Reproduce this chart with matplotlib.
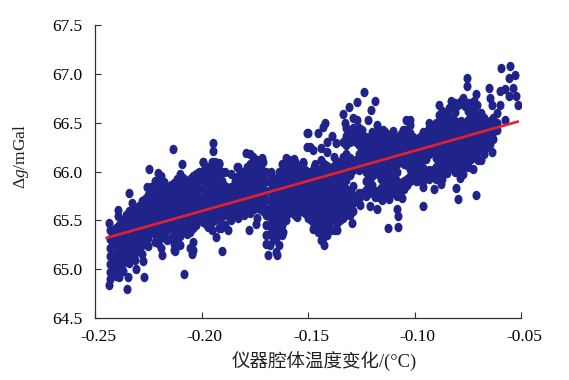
"""Scatter of gravity residual against instrument cavity temperature change."""
import matplotlib
matplotlib.use("Agg")
import matplotlib.pyplot as plt
from matplotlib.markers import MarkerStyle
from matplotlib.path import Path
from matplotlib.transforms import Affine2D, ScaledTranslation

COL_X = [-0.243, -0.240, -0.237, -0.234, -0.231, -0.228, -0.225, -0.222,
         -0.219, -0.216, -0.213, -0.210, -0.207, -0.204, -0.201, -0.198,
         -0.195, -0.192, -0.189, -0.186, -0.183, -0.180, -0.177, -0.174,
         -0.171, -0.168, -0.165, -0.162, -0.159, -0.156, -0.153, -0.150,
         -0.147, -0.144, -0.141, -0.138, -0.135, -0.132, -0.129, -0.126,
         -0.123, -0.120, -0.117, -0.114, -0.111, -0.108, -0.105, -0.102,
         -0.099, -0.096, -0.093, -0.090, -0.087, -0.084, -0.081, -0.078,
         -0.075, -0.072, -0.069, -0.066, -0.063]
COL_Y = [
    [65.40, 65.31, 65.22, 65.13, 65.05, 64.97, 64.90],
    [65.42, 65.34, 65.26, 65.17, 65.08, 65.00, 64.93],
    [65.50, 65.41, 65.32, 65.24, 65.15, 65.06, 64.98],
    [65.60, 65.50, 65.40, 65.31, 65.22, 65.13, 65.06],
    [65.62, 65.52, 65.44, 65.35, 65.26, 65.17, 65.09],
    [65.70, 65.61, 65.52, 65.43, 65.34, 65.25, 65.16],
    [65.76, 65.68, 65.59, 65.50, 65.41, 65.32, 65.24],
    [65.90, 65.80, 65.70, 65.61, 65.52, 65.44, 65.36, 65.28],
    [65.95, 65.86, 65.77, 65.68, 65.59, 65.50, 65.42, 65.32, 65.22],
    [65.84, 65.75, 65.66, 65.57, 65.48, 65.40, 65.30],
    [65.88, 65.79, 65.70, 65.61, 65.52, 65.44, 65.35, 65.26, 65.20],
    [65.97, 65.88, 65.79, 65.70, 65.61, 65.52, 65.43, 65.34, 65.25],
    [65.90, 65.81, 65.72, 65.63, 65.54, 65.45, 65.36],
    [65.95, 65.86, 65.77, 65.68, 65.59, 65.50, 65.42, 65.28, 65.20],
    [66.00, 65.91, 65.82, 65.73, 65.64, 65.57, 65.50],
    [66.03, 65.94, 65.85, 65.76, 65.67, 65.58, 65.46],
    [66.10, 66.00, 65.91, 65.82, 65.73, 65.64, 65.55, 65.48, 65.40],
    [66.08, 65.98, 65.89, 65.80, 65.71, 65.62, 65.53, 65.42],
    [66.00, 65.85, 65.76, 65.67, 65.58, 65.45],
    [65.97, 65.84, 65.75, 65.66, 65.58, 65.50],
    [66.05, 65.95, 65.86, 65.77, 65.68, 65.60, 65.52],
    [66.00, 65.91, 65.82, 65.73, 65.64, 65.55],
    [66.18, 66.08, 65.99, 65.90, 65.81, 65.72, 65.64, 65.58],
    [66.12, 66.02, 65.93, 65.84, 65.75, 65.66, 65.52],
    [66.10, 66.01, 65.92, 65.83, 65.74, 65.67, 65.60],
    [65.98, 65.89, 65.80, 65.71, 65.62, 65.53, 65.44, 65.36, 65.25],
    [65.92, 65.84, 65.75, 65.66, 65.57, 65.48, 65.40, 65.32, 65.18],
    [66.08, 65.99, 65.90, 65.81, 65.72, 65.63, 65.54, 65.45, 65.35],
    [66.12, 66.03, 65.94, 65.85, 65.76, 65.67, 65.58],
    [66.10, 66.01, 65.92, 65.83, 65.74, 65.65, 65.55],
    [66.08, 65.99, 65.90, 65.81, 65.72, 65.64, 65.60],
    [66.00, 65.91, 65.82, 65.73, 65.64, 65.52],
    [66.05, 65.96, 65.87, 65.78, 65.69, 65.60, 65.52, 65.45],
    [66.12, 66.03, 65.94, 65.85, 65.76, 65.67, 65.58, 65.49, 65.40, 65.30],
    [66.20, 66.06, 65.97, 65.88, 65.79, 65.70, 65.61, 65.52, 65.43, 65.35],
    [66.15, 66.06, 65.97, 65.88, 65.79, 65.70, 65.61, 65.52, 65.40],
    [66.10, 66.01, 65.92, 65.83, 65.74, 65.65, 65.56, 65.50],
    [66.45, 66.36, 66.27, 66.18, 66.09, 66.00, 65.91, 65.82, 65.73, 65.64, 65.55],
    [66.55, 66.45, 66.36, 66.10, 66.02, 65.85, 65.76, 65.68, 65.60],
    [66.45, 66.36, 66.27, 66.18, 66.09, 66.02, 65.78, 65.72],
    [66.35, 66.26, 66.17, 66.08, 65.99, 65.90, 65.81, 65.75],
    [66.40, 66.31, 66.22, 66.13, 66.04, 65.95, 65.86, 65.80],
    [66.42, 66.33, 66.24, 66.15, 66.06, 65.97, 65.80, 65.74],
    [66.40, 66.31, 66.22, 66.13, 66.04, 65.95, 65.86, 65.76],
    [66.35, 66.26, 66.17, 66.08, 65.99, 65.90, 65.84, 65.78],
    [66.35, 66.26, 66.17, 66.08, 65.99, 65.90, 65.82, 65.75],
    [66.42, 66.33, 66.24, 66.15, 66.08, 65.90, 65.82],
    [66.48, 66.39, 66.30, 66.21, 66.12, 66.03, 65.95, 65.90],
    [66.30, 66.21, 66.12, 66.03, 65.96, 65.90],
    [66.40, 66.31, 66.22, 66.13, 66.04, 65.96, 65.90],
    [66.45, 66.36, 66.27, 66.18, 66.02, 65.96, 65.92],
    [66.50, 66.41, 66.32, 66.23, 66.14, 66.05, 65.98, 65.92],
    [66.62, 66.53, 66.44, 66.35, 66.26, 66.17, 66.08, 66.00, 65.92],
    [66.65, 66.56, 66.47, 66.38, 66.29, 66.20, 66.11, 66.04],
    [66.70, 66.61, 66.52, 66.43, 66.34, 66.25, 66.16, 66.08, 66.00],
    [66.72, 66.52, 66.43, 66.34, 66.25, 66.16, 66.08, 66.00],
    [66.70, 66.62, 66.53, 66.44, 66.35, 66.26, 66.17, 66.10, 66.05],
    [66.72, 66.63, 66.54, 66.45, 66.36, 66.27, 66.18, 66.15],
    [66.60, 66.51, 66.42, 66.33, 66.24, 66.12],
    [66.50, 66.41, 66.32, 66.25],
    [66.55, 66.48, 66.40],
]

# second pass over the cloud, between the columns above
FILL_X = [-0.2415, -0.2385, -0.2355, -0.2325, -0.2295, -0.2265, -0.2235,
          -0.2205, -0.2175, -0.2145, -0.2115, -0.2085, -0.2055, -0.2025,
          -0.1995, -0.1965, -0.1935, -0.1905, -0.1875, -0.1845, -0.1815,
          -0.1785, -0.1755, -0.1725, -0.1695, -0.1665, -0.1635, -0.1605,
          -0.1575, -0.1545, -0.1515, -0.1485, -0.1455, -0.1425, -0.1395,
          -0.1365, -0.1335, -0.1305, -0.1275, -0.1245, -0.1215, -0.1185,
          -0.1155, -0.1125, -0.1095, -0.1065, -0.1035, -0.1005, -0.0975,
          -0.0945, -0.0915, -0.0885, -0.0855, -0.0825, -0.0795, -0.0765,
          -0.0735, -0.0705, -0.0675, -0.0645, -0.0615]
FILL_Y = [
    [65.35, 65.26, 65.12, 65.03],
    [65.45, 65.36, 65.28, 65.19, 65.10, 65.02],
    [65.55, 65.45, 65.36, 65.27, 65.18, 65.10],
    [65.57, 65.47, 65.38, 65.30, 65.20, 65.12],
    [65.65, 65.56, 65.47, 65.38, 65.29, 65.20],
    [65.72, 65.63, 65.55, 65.46, 65.37, 65.28],
    [65.84, 65.74, 65.65, 65.56, 65.47, 65.38],
    [65.91, 65.82, 65.73, 65.64, 65.55, 65.46, 65.37, 65.27],
    [65.89, 65.80, 65.71, 65.62, 65.53, 65.45, 65.35],
    [65.86, 65.77, 65.68, 65.59, 65.50, 65.42, 65.32],
    [65.92, 65.83, 65.74, 65.65, 65.56, 65.47, 65.38, 65.29],
    [65.93, 65.84, 65.75, 65.66, 65.57, 65.48, 65.40],
    [65.92, 65.83, 65.74, 65.65, 65.56, 65.47, 65.38],
    [65.97, 65.88, 65.79, 65.70, 65.61, 65.52, 65.45],
    [66.01, 65.92, 65.83, 65.74, 65.65, 65.56, 65.48],
    [66.05, 65.96, 65.87, 65.78, 65.69, 65.60, 65.52, 65.44],
    [66.04, 65.95, 65.86, 65.77, 65.68, 65.59, 65.50],
    [66.00, 65.90, 65.81, 65.72, 65.63, 65.54, 65.46],
    [65.80, 65.71, 65.62, 65.54],
    [65.90, 65.81, 65.72, 65.63, 65.55],
    [66.00, 65.90, 65.81, 65.72, 65.64],
    [66.05, 65.95, 65.86, 65.77, 65.68, 65.61],
    [66.06, 65.97, 65.88, 65.79, 65.70, 65.62],
    [66.06, 65.97, 65.88, 65.79, 65.71, 65.62],
    [66.00, 65.90, 65.80, 65.71, 65.62, 65.55, 65.45, 65.35],
    [65.93, 65.84, 65.75, 65.66, 65.57, 65.48, 65.38, 65.30],
    [66.00, 65.92, 65.83, 65.74, 65.65, 65.56, 65.48, 65.40],
    [66.05, 65.96, 65.87, 65.78, 65.69, 65.60, 65.50],
    [66.06, 65.97, 65.88, 65.79, 65.70, 65.62],
    [66.04, 65.95, 65.86, 65.77, 65.68, 65.60],
    [66.02, 65.93, 65.84, 65.75, 65.66, 65.57],
    [66.00, 65.92, 65.83, 65.74, 65.65, 65.56, 65.50],
    [66.00, 65.91, 65.82, 65.73, 65.64, 65.55, 65.46, 65.38],
    [66.08, 65.99, 65.90, 65.81, 65.72, 65.63, 65.54, 65.45, 65.36],
    [66.02, 65.93, 65.84, 65.75, 65.66, 65.57, 65.48, 65.40],
    [66.10, 66.01, 65.92, 65.83, 65.74, 65.65, 65.56, 65.47],
    [66.30, 66.15, 66.05, 65.96, 65.87, 65.78, 65.69, 65.60, 65.52],
    [66.40, 66.30, 66.14, 66.05, 65.96, 65.80, 65.70, 65.62],
    [66.40, 66.30, 66.12, 66.05],
    [66.32, 66.22, 66.13, 66.04, 65.78],
    [66.30, 66.20, 66.12, 66.03, 65.94, 65.85, 65.78],
    [66.37, 66.28, 66.19, 66.10, 66.01, 65.80, 65.74],
    [66.37, 66.28, 66.19, 66.10, 66.01, 65.92, 65.83, 65.75],
    [66.37, 66.28, 66.19, 66.10, 66.01, 65.92, 65.82],
    [66.30, 66.21, 66.12, 66.03, 65.94, 65.86, 65.78],
    [66.38, 66.29, 66.20, 66.12, 65.86, 65.80],
    [66.43, 66.34, 66.25, 66.16, 66.07, 65.92, 65.86],
    [66.35, 66.26, 66.17, 66.08, 65.99, 65.92],
    [66.35, 66.26, 66.17, 66.08, 66.00, 65.93],
    [66.40, 66.31, 66.22, 66.13, 66.00, 65.95],
    [66.47, 66.38, 66.29, 66.20, 66.02, 65.96],
    [66.58, 66.47, 66.38, 66.29, 66.20, 66.11, 66.02, 65.95],
    [66.60, 66.50, 66.41, 66.32, 66.23, 66.14, 66.05],
    [66.66, 66.56, 66.47, 66.38, 66.29, 66.20, 66.11, 66.04],
    [66.68, 66.50, 66.40, 66.31, 66.22, 66.13, 66.04],
    [66.67, 66.48, 66.39, 66.30, 66.21, 66.12, 66.06],
    [66.70, 66.58, 66.49, 66.40, 66.31, 66.22, 66.13],
    [66.68, 66.56, 66.47, 66.38, 66.29, 66.20],
    [66.55, 66.46, 66.37, 66.28, 66.18],
    [66.52, 66.44, 66.36, 66.28],
    [66.50, 66.42],
]

# points on the edge of the cloud and strays, read one at a time
EDGE_X = [-0.2132, -0.2093, -0.2246, -0.1994, -0.2203, -0.2340, -0.2393,
          -0.2393, -0.2433, -0.2325, -0.2257, -0.2434, -0.2350, -0.2386,
          -0.2344, -0.2271, -0.2309, -0.2276, -0.2082, -0.2187, -0.2124,
          -0.2046, -0.2054, -0.1945, -0.1947, -0.1992, -0.1937, -0.1918,
          -0.1791, -0.1757, -0.1717, -0.1835, -0.1603, -0.1564, -0.1503,
          -0.1503, -0.1522, -0.1674, -0.1631, -0.1902, -0.1933, -0.1910,
          -0.1877, -0.1968, -0.1776, -0.1746, -0.1686, -0.1644, -0.1699,
          -0.1635, -0.1616, -0.1553, -0.1237, -0.1269, -0.1184, -0.1204,
          -0.1306, -0.1334, -0.1422, -0.1428, -0.1501, -0.1451, -0.1386,
          -0.1491, -0.1475, -0.1440, -0.1412, -0.1369, -0.1525, -0.1467,
          -0.1326, -0.1271, -0.1248, -0.1217, -0.1178, -0.1147, -0.1100,
          -0.1053, -0.1040, -0.1224, -0.1303, -0.1425, -0.1431, -0.1475,
          -0.1491, -0.1362, -0.1295, -0.1303, -0.1256, -0.1209, -0.1175,
          -0.1124, -0.1077, -0.1076, -0.1084, -0.1060, -0.1118, -0.1154,
          -0.0593, -0.0550, -0.0527, -0.0558, -0.0754, -0.0754, -0.0650,
          -0.0711, -0.0646, -0.0599, -0.0575, -0.0539, -0.0523, -0.0512,
          -0.0555, -0.0599, -0.0638, -0.0613, -0.0575, -0.0885, -0.0830,
          -0.0771, -0.0932, -0.1021, -0.0962, -0.0794, -0.0711, -0.0805,
          -0.0907, -0.0877, -0.0786, -0.0771, -0.0727, -0.0776, -0.0635,
          -0.0630, -0.0700, -0.0959, -0.0993, -0.0849]
EDGE_Y = [66.23, 66.08, 66.03, 66.10, 65.98, 65.78, 65.61,
          65.54, 65.47, 65.68, 65.84, 64.84, 64.80, 64.92,
          64.92, 64.92, 65.00, 65.08, 64.95, 65.14, 65.19,
          65.16, 65.22, 66.29, 66.21, 66.10, 66.10, 66.09,
          66.19, 66.15, 66.14, 66.05, 66.14, 66.13, 66.39,
          66.25, 66.09, 66.00, 65.96, 65.19, 65.33, 65.42,
          65.40, 65.43, 65.40, 65.46, 65.14, 65.14, 65.26,
          65.25, 65.38, 65.53, 66.81, 66.71, 66.72, 66.63,
          66.66, 66.59, 66.50, 66.46, 66.39, 66.39, 66.36,
          66.25, 66.22, 66.24, 66.30, 66.29, 66.10, 66.08,
          66.50, 66.53, 66.42, 66.53, 66.48, 66.42, 66.41,
          66.42, 66.53, 66.34, 66.34, 65.25, 65.32, 65.41,
          65.52, 65.40, 65.47, 65.55, 65.66, 65.65, 65.62,
          65.42, 65.43, 65.54, 65.62, 65.73, 65.72, 65.71,
          67.06, 67.08, 66.99, 66.96, 66.96, 66.88, 66.86,
          66.79, 66.75, 66.82, 66.84, 66.85, 66.77, 66.68,
          66.77, 66.68, 66.68, 66.60, 66.53, 66.68, 66.72,
          66.75, 66.50, 66.53, 65.65, 65.72, 65.76, 65.83,
          65.82, 65.87, 65.93, 65.97, 66.03, 66.10, 66.20,
          66.33, 66.12, 65.84, 65.90, 65.98]

FIT_X = [-0.2445, -0.0516]
FIT_Y = [65.32, 66.51]

X_TICKS = [-0.25, -0.20, -0.15, -0.10, -0.05]
X_LABELS = ["-0.25", "-0.20", "-0.15", "-0.10", "-0.05"]
Y_TICKS = [64.5, 65.0, 65.5, 66.0, 66.5, 67.0, 67.5]
Y_LABELS = ["64.5", "65.0", "65.5", "66.0", "66.5", "67.0", "67.5"]

plt.rcParams["font.family"] = ["Liberation Serif", "Noto Sans CJK SC"]
plt.rcParams["mathtext.fontset"] = "custom"
plt.rcParams["mathtext.rm"] = "Liberation Serif"
plt.rcParams["mathtext.it"] = "Liberation Serif:italic"

fig = plt.figure(figsize=(5.69, 3.80), dpi=100)
ax = fig.add_axes([95 / 569, 1 - 318 / 380, 426 / 569, 293 / 380])

xs, ys = [], []
for col_x, col_y in zip(COL_X + FILL_X, COL_Y + FILL_Y):
    xs += [col_x] * len(col_y)
    ys += col_y
xs += EDGE_X
ys += EDGE_Y

# dots are a little taller than wide in the original
dot = MarkerStyle(Path.unit_circle(), transform=Affine2D().scale(5.8, 6.8))
ax.scatter(xs, ys, marker=dot, s=1, color="#20248a", linewidths=0, zorder=2)
ax.plot(FIT_X, FIT_Y, color="#e3202c", lw=1.9, zorder=3)

ax.set_xlim(-0.25, -0.05)
ax.set_ylim(64.5, 67.5)
ax.set_xticks(X_TICKS, X_LABELS)
ax.set_yticks(Y_TICKS, Y_LABELS)
ax.spines[["top", "right"]].set_visible(False)
for side in ("left", "bottom"):
    ax.spines[side].set_color("#303030")
    ax.spines[side].set_linewidth(0.9)
ax.tick_params(axis="both", direction="in", length=4, width=0.8,
               color="#303030", labelsize=12.5)
ax.tick_params(axis="x", pad=8)
ax.tick_params(axis="y", pad=9)
for lab in ax.get_xticklabels():
    lab.set_transform(lab.get_transform()
                      + ScaledTranslation(3 / 100, 0, fig.dpi_scale_trans))

fig.text(324 / 569, 1 - 361 / 380, "仪器腔体温度变化/(°C)", fontsize=13.3,
         ha="center", va="center", color="#202020")
fig.text(21 / 569, 1 - 157 / 380, "Δ$g$/mGal", fontsize=12.5, rotation=90,
         ha="center", va="center", color="#202020")

fig.savefig("out.png", dpi=100)
